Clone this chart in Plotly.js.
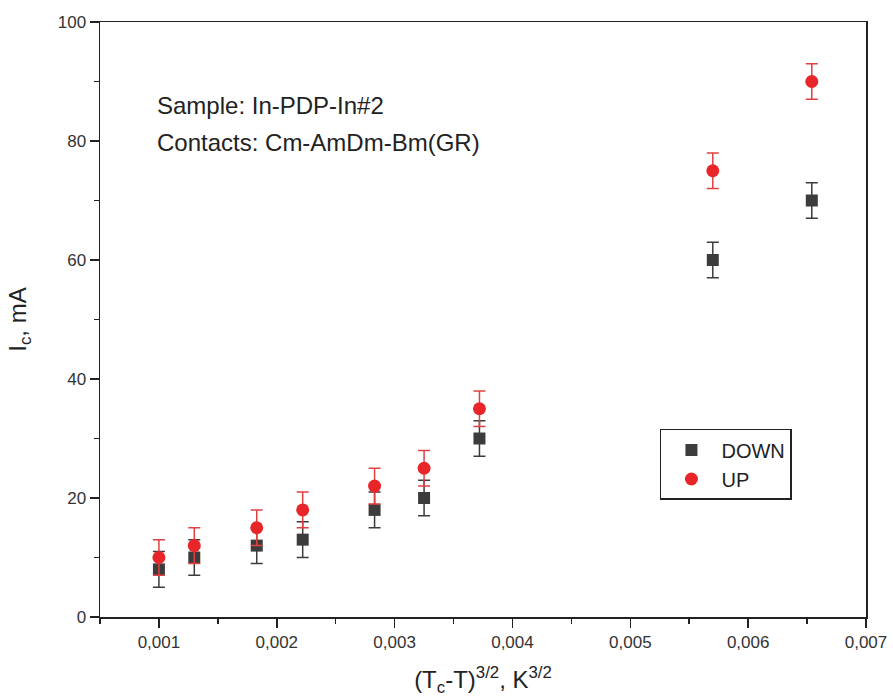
<!DOCTYPE html>
<html><head><meta charset="utf-8">
<script src="https://cdn.plot.ly/plotly-3.0.1.min.js"></script>
<style>body{margin:0;background:#fff}#c{width:893px;height:699px}</style>
</head><body><div id="c"></div>
<script>
const xDown = [0.001, 0.0013, 0.00183, 0.00222, 0.00283, 0.00325, 0.00372, 0.0057, 0.00654];
const yDown = [8, 10, 12, 13, 18, 20, 30, 60, 70];
const eDown = [3, 3, 3, 3, 3, 3, 3, 3, 3];
const xUp = [0.001, 0.0013, 0.00183, 0.00222, 0.00283, 0.00325, 0.00372, 0.0057, 0.00654];
const yUp = [10, 12, 15, 18, 22, 25, 35, 75, 90];
const eUp = [3, 3, 3, 3, 3, 3, 3, 3, 3];

const font = 'Liberation Sans, Arial, sans-serif';
const traces = [
  {x: xDown, y: yDown, name: 'DOWN', type: 'scatter', mode: 'markers',
   marker: {symbol: 'square', size: 12, color: '#3c3c3c'},
   error_y: {type: 'data', array: eDown, visible: true, color: '#3c3c3c', thickness: 1.5, width: 6}},
  {x: xUp, y: yUp, name: 'UP', type: 'scatter', mode: 'markers',
   marker: {symbol: 'circle', size: 13, color: '#e8262a'},
   error_y: {type: 'data', array: eUp, visible: true, color: '#e04040', thickness: 1.5, width: 6}}
];
const layout = {
  width: 893, height: 699,
  margin: {l: 100, r: 27, t: 22, b: 82},
  paper_bgcolor: '#fff', plot_bgcolor: '#fff',
  separators: ',.',
  showlegend: true,
  legend: {x: 0.731, y: 0.316, xanchor: 'left', yanchor: 'top',
    bordercolor: '#222', borderwidth: 1.5, bgcolor: '#fff',
    font: {family: font, size: 20, color: '#222'}, itemwidth: 50, tracegroupgap: 0},
  xaxis: {range: [0.0005, 0.007], dtick: 0.001, tick0: 0.001, tickformat: '.3f',
    ticks: 'outside', ticklen: 9, tickwidth: 1.5, tickcolor: '#222',
    showline: true, linecolor: '#222', linewidth: 1.5, mirror: true,
    showgrid: false, zeroline: false,
    minor: {dtick: 0.0005, tick0: 0.0005, ticks: 'outside', ticklen: 5, tickcolor: '#222', tickwidth: 1.5},
    tickfont: {family: font, size: 17, color: '#333'},
    title: {text: '(T<sub>c</sub>-T)<sup>3/2</sup>, K<sup>3/2</sup>', font: {family: font, size: 24, color: '#222'}, standoff: 20}},
  yaxis: {range: [0, 100], dtick: 20,
    ticks: 'outside', ticklen: 9, tickwidth: 1.5, tickcolor: '#222',
    showline: true, linecolor: '#222', linewidth: 1.5, mirror: true,
    showgrid: false, zeroline: false,
    minor: {dtick: 10, ticks: 'outside', ticklen: 5, tickcolor: '#222', tickwidth: 1.5},
    tickfont: {family: font, size: 17, color: '#333'},
    title: {text: 'I<sub>c</sub>, mA', font: {family: font, size: 24, color: '#222'}, standoff: 24}},
  annotations: [
    {xref: 'paper', yref: 'paper', x: 0.072, y: 0.859, xanchor: 'left', yanchor: 'middle', showarrow: false,
     text: 'Sample: In-PDP-In#2', font: {family: font, size: 24, color: '#222'}},
    {xref: 'paper', yref: 'paper', x: 0.072, y: 0.797, xanchor: 'left', yanchor: 'middle', showarrow: false,
     text: 'Contacts: Cm-AmDm-Bm(GR)', font: {family: font, size: 24, color: '#222'}}
  ]
};
Plotly.newPlot('c', traces, layout, {displayModeBar: false, staticPlot: true});
</script></body></html>
